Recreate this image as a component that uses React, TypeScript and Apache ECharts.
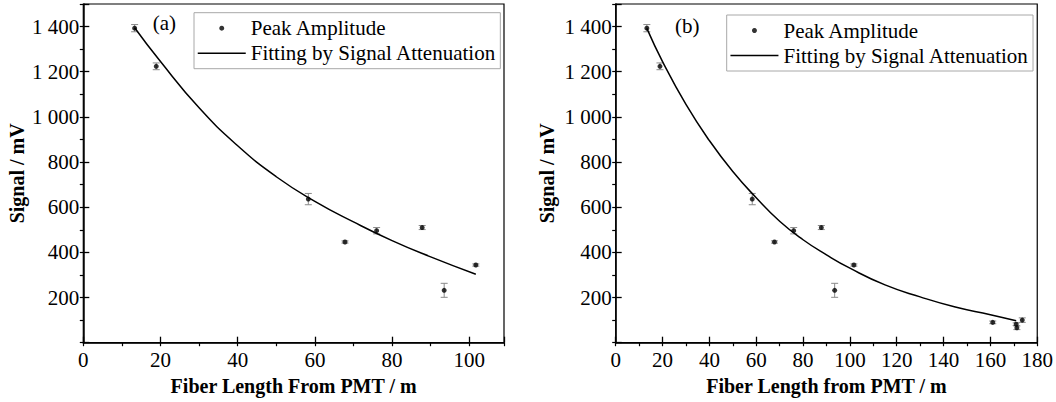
import React, { useEffect, useRef } from "react";
import * as echarts from "echarts";

// ---- data ----
const fiberLength = [13.3, 18.9, 58.3, 67.8, 76.0, 87.8, 93.5, 101.7, 161.0, 171.0, 171.3, 173.6];
const peakAmplitude = [1393, 1224, 636, 446, 496, 510, 232, 344, 90, 82, 66, 100];
const amplitudeError = [16, 15, 25, 5, 14, 9, 31, 5, 6, 6, 8, 10];
const pointsInA = 8; // panel (a) uses the first 8 measurements

const fitAX = [13.3, 20, 30, 40, 50, 60, 70, 80, 90, 101.7];
const fitAY = [1395, 1245, 1040, 872, 735, 626, 535, 452, 380, 303];

const fitBX = [13.3, 20, 30, 40, 50, 60, 70, 80, 90, 100, 115, 130, 145, 160, 171];
const fitBY = [1392, 1245, 1055, 895, 758, 642, 538, 456, 389, 330, 256, 203, 158, 124, 97];

const xTicksA = [0, 20, 40, 60, 80, 100];
const xTicksB = [0, 20, 40, 60, 80, 100, 120, 140, 160, 180];
const yTicks = [200, 400, 600, 800, 1000, 1200, 1400];

const legendNames = ["Peak Amplitude", "Fitting by Signal Attenuation"];
const panelLabels = ["(a)", "(b)"];
const xTitles = ["Fiber Length From PMT / m", "Fiber Length from PMT / m"];
const yTitle = "Signal / mV";

const FONT = "Liberation Serif";

function fmtY(v: number): string {
  if (!yTicks.includes(v)) return "";
  if (v >= 1000) {
    return Math.floor(v / 1000) + " " + String(v % 1000).padStart(3, "0");
  }
  return String(v);
}

function makeOption() {
  const grids = [
    { left: 83.3, top: 4, width: 420.7, height: 338.7 },
    { left: 615.7, top: 4, width: 423.3, height: 338.7 },
  ];
  const xMax = [109, 180];
  const xTickSets = [xTicksA, xTicksB];
  const yGap = [56, 59];

  const xAxis: any[] = [];
  const yAxis: any[] = [];
  const series: any[] = [];
  const legends: any[] = [];
  const graphics: any[] = [];

  grids.forEach((g, i) => {
    xAxis.push({
      type: "value",
      gridIndex: i,
      min: 0,
      max: xMax[i],
      interval: 20,
      name: xTitles[i],
      nameLocation: "middle",
      nameGap: 30,
      nameTextStyle: { fontFamily: FONT, fontSize: 20, fontWeight: "bold", color: "#000" },
      axisLine: { show: true, lineStyle: { color: "#000", width: 1.5 } },
      axisTick: { show: true, inside: true, length: 6, lineStyle: { color: "#000", width: 1.3 } },
      axisLabel: {
        margin: 7,
        fontFamily: FONT,
        fontSize: 21,
        color: "#000",
        formatter: (v: number) => (xTickSets[i].includes(v) ? String(v) : ""),
      },
      splitLine: { show: false },
    });
    xAxis.push({
      type: "value",
      gridIndex: i,
      min: 0,
      max: xMax[i],
      interval: 10,
      axisLine: { show: false },
      axisTick: { show: true, inside: true, length: 3.5, lineStyle: { color: "#000", width: 1.2 } },
      axisLabel: { show: false },
      splitLine: { show: false },
    });
    yAxis.push({
      type: "value",
      gridIndex: i,
      min: 0,
      max: 1500,
      interval: 200,
      name: yTitle,
      nameLocation: "middle",
      nameGap: yGap[i],
      nameTextStyle: { fontFamily: FONT, fontSize: 20, fontWeight: "bold", color: "#000" },
      axisLine: { show: true, lineStyle: { color: "#000", width: 1.5 } },
      axisTick: { show: true, inside: true, length: 6, lineStyle: { color: "#000", width: 1.3 } },
      axisLabel: {
        margin: 4,
        fontFamily: FONT,
        fontSize: 21,
        color: "#000",
        formatter: fmtY,
      },
      splitLine: { show: false },
    });
    yAxis.push({
      type: "value",
      gridIndex: i,
      min: 0,
      max: 1500,
      interval: 100,
      axisLine: { show: false },
      axisTick: { show: true, inside: true, length: 3.5, lineStyle: { color: "#000", width: 1.2 } },
      axisLabel: { show: false },
      splitLine: { show: false },
    });

    const n = i === 0 ? pointsInA : fiberLength.length;
    const pts = fiberLength.slice(0, n).map((x, k) => [x, peakAmplitude[k]]);
    const errs = fiberLength.slice(0, n).map((x, k) => [x, peakAmplitude[k], amplitudeError[k]]);
    const fitX = i === 0 ? fitAX : fitBX;
    const fitY = i === 0 ? fitAY : fitBY;
    const fit = fitX.map((x, k) => [x, fitY[k]]);

    series.push({
      type: "custom",
      name: "errors" + i,
      xAxisIndex: i * 2,
      yAxisIndex: i * 2,
      data: errs,
      z: 1,
      renderItem: (params: any, api: any) => {
        const x = api.value(0);
        const y = api.value(1);
        const e = api.value(2);
        const top = api.coord([x, y + e]);
        const bot = api.coord([x, y - e]);
        const hw = 3.5;
        const style = { stroke: "#8a8a8a", lineWidth: 1 };
        return {
          type: "group",
          children: [
            { type: "line", shape: { x1: top[0], y1: top[1], x2: bot[0], y2: bot[1] }, style },
            { type: "line", shape: { x1: top[0] - hw, y1: top[1], x2: top[0] + hw, y2: top[1] }, style },
            { type: "line", shape: { x1: bot[0] - hw, y1: bot[1], x2: bot[0] + hw, y2: bot[1] }, style },
          ],
        };
      },
    });
    series.push({
      type: "line",
      name: legendNames[1],
      xAxisIndex: i * 2,
      yAxisIndex: i * 2,
      data: fit,
      smooth: 0.5,
      symbol: "none",
      showSymbol: false,
      lineStyle: { color: "#000", width: 1.5 },
      itemStyle: { color: "#000" },
      z: 2,
    });
    series.push({
      type: "scatter",
      name: legendNames[0],
      xAxisIndex: i * 2,
      yAxisIndex: i * 2,
      data: pts,
      symbol: "circle",
      symbolSize: 5,
      itemStyle: { color: "#000" },
      z: 3,
    });

    legends.push({
      orient: "vertical",
      left: i === 0 ? 194 : 726.7,
      top: i === 0 ? 12.7 : 15,
      padding: [5, 4, 5, 3],
      itemGap: 4,
      itemWidth: 48,
      itemHeight: 5,
      borderColor: "#a8a8a8",
      borderWidth: 1,
      selectedMode: false,
      textStyle: { fontFamily: FONT, fontSize: 21, lineHeight: 21, color: "#000" },
      data: [
        { name: legendNames[0], icon: "circle" },
        {
          name: legendNames[1],
          itemStyle: { color: "rgba(0,0,0,0)", borderWidth: 0, opacity: 0 },
          lineStyle: { color: "#000", width: 1.5 },
        },
      ],
    });

    graphics.push({
      type: "text",
      left: i === 0 ? 152.7 : 675,
      top: i === 0 ? 12.5 : 15.5,
      style: { text: panelLabels[i], font: `21px "${FONT}"`, fill: "#000" },
    });
  });

  return {
    animation: false,
    backgroundColor: "#fff",
    grid: grids.map((g) => ({ ...g, show: true, borderColor: "#000", borderWidth: 1.2, backgroundColor: "transparent" })),
    xAxis,
    yAxis,
    series,
    legend: legends,
    graphic: graphics,
  };
}

export default function App() {
  const ref = useRef<HTMLDivElement>(null);
  useEffect(() => {
    if (!ref.current) return;
    const chart = echarts.init(ref.current, undefined, { renderer: "svg" });
    chart.setOption(makeOption() as any);
    return () => chart.dispose();
  }, []);
  return (
    <div
      ref={ref}
      style={{ position: "fixed", left: 0, top: 0, width: 1056, height: 402, background: "#fff" }}
    />
  );
}
